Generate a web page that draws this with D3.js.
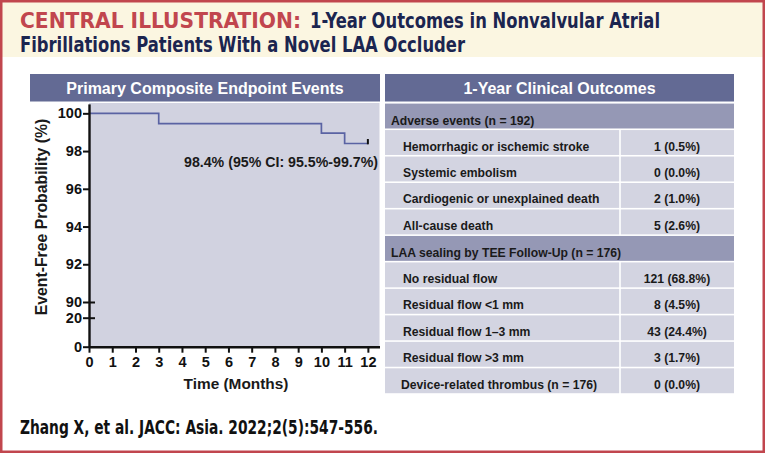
<!DOCTYPE html>
<html>
<head>
<meta charset="utf-8">
<script src="https://cdn.jsdelivr.net/npm/d3@7"></script>
<style>
  body { margin: 0; background: #fff; }
  svg { display: block; }
  .cond { font-family: "Liberation Sans Narrow", "DejaVu Sans Condensed", sans-serif; font-stretch: condensed; font-weight: bold; }
  .sans { font-family: "Liberation Sans", Arial, sans-serif; font-weight: bold; }
</style>
</head>
<body>
<div id="chart"></div>
<script>
// Kaplan-Meier step values (event-free probability, %)
var kmTimes = [0, 3, 10, 11, 12];
var kmSurv = [100, 99.45, 98.95, 98.4, 98.4];
var yTicks = [0, 20, 90, 92, 94, 96, 98, 100];
var breakTicks = [20, 90];
var xTicks = [0, 1, 2, 3, 4, 5, 6, 7, 8, 9, 10, 11, 12];
var kmNote = "98.4% (95% CI: 95.5%-99.7%)";

// table contents
var adverseTitle = "Adverse events (n = 192)";
var adverseLabels = ["Hemorrhagic or ischemic stroke", "Systemic embolism", "Cardiogenic or unexplained death", "All-cause death"];
var adverseValues = ["1 (0.5%)", "0 (0.0%)", "2 (1.0%)", "5 (2.6%)"];
var sealingTitle = "LAA sealing by TEE Follow-Up (n = 176)";
var sealingLabels = ["No residual flow", "Residual flow <1 mm", "Residual flow 1\u20133 mm", "Residual flow >3 mm"];
var sealingValues = ["121 (68.8%)", "8 (4.5%)", "43 (24.4%)", "3 (1.7%)"];
var thrombusLabel = "Device-related thrombus (n = 176)";
var thrombusValue = "0 (0.0%)";

var W = 765, H = 453;
var red = "#c1464e", navy = "#1b2550", hdr = "#636a94", sect = "#9598b5", cell = "#d3d4e1", plotBg = "#d1d2e0", lineC = "#5a63a3";

var svg = d3.select("#chart").append("svg").attr("width", W).attr("height", H);

// frame + banner
svg.append("rect").attr("x", 0).attr("y", 0).attr("width", W).attr("height", H).attr("fill", "#fff");
svg.append("rect").attr("x", 2).attr("y", 2).attr("width", W - 4).attr("height", 55).attr("fill", "#fbf6e1");
svg.append("rect").attr("x", 1.25).attr("y", 1.25).attr("width", W - 2.5).attr("height", H - 2.5)
  .attr("fill", "none").attr("stroke", red).attr("stroke-width", 2.5);

// title, squeezed to the widths of the original condensed face
svg.append("text").attr("class", "cond").attr("x", 20).attr("y", 28).style("font-size", "21px")
  .attr("fill", red).attr("textLength", 281).attr("lengthAdjust", "spacingAndGlyphs")
  .text("CENTRAL ILLUSTRATION:");
svg.append("text").attr("class", "cond").attr("x", 310).attr("y", 28).style("font-size", "21px")
  .attr("fill", navy).attr("textLength", 350).attr("lengthAdjust", "spacingAndGlyphs")
  .text("1-Year Outcomes in Nonvalvular Atrial");
svg.append("text").attr("class", "cond").attr("x", 20).attr("y", 52).style("font-size", "21px")
  .attr("fill", navy).attr("textLength", 445).attr("lengthAdjust", "spacingAndGlyphs")
  .text("Fibrillations Patients With a Novel LAA Occluder");

svg.append("text").attr("class", "cond").attr("x", 20).attr("y", 434).style("font-size", "19px")
  .attr("fill", "#111").attr("textLength", 358).attr("lengthAdjust", "spacingAndGlyphs")
  .text("Zhang X, et al. JACC: Asia. 2022;2(5):547-556.");

// ---- left panel: KM curve
svg.append("rect").attr("x", 30).attr("y", 74).attr("width", 350).attr("height", 27.5).attr("fill", hdr);
svg.append("text").attr("class", "sans").attr("x", 205).attr("y", 93.5).attr("text-anchor", "middle")
  .style("font-size", "16px").attr("fill", "#fff").text("Primary Composite Endpoint Events");

var x = d3.scaleLinear().domain([0, 12.5]).range([89, 379.5]);
var y = d3.scaleLinear().domain([0, 20, 90, 100.5]).range([346.7, 317.7, 302, 103.9]);

svg.append("rect").attr("x", x(0)).attr("y", 103).attr("width", x(12.5) - x(0)).attr("height", y(0) - 103)
  .attr("fill", plotBg);

var km = kmTimes.map(function (t, i) { return { t: t, s: kmSurv[i] }; });
var line = d3.line().curve(d3.curveStepAfter)
  .x(function (d) { return x(d.t); })
  .y(function (d) { return y(d.s); });
svg.append("path").datum(km).attr("d", line).attr("fill", "none").attr("stroke", lineC).attr("stroke-width", 1.7);

// censor mark at last point
var last = km[km.length - 1];
svg.append("line").attr("x1", x(last.t)).attr("x2", x(last.t))
  .attr("y1", y(last.s) + 0.8).attr("y2", y(last.s) - 4.5)
  .attr("stroke", "#111").attr("stroke-width", 2);

svg.append("text").attr("class", "sans").attr("x", 378).attr("y", 167).attr("text-anchor", "end")
  .style("font-size", "14.2px").attr("fill", "#1a1a1a").text(kmNote);

var yAxis = svg.append("g").attr("transform", "translate(" + x(0) + ",0)")
  .call(d3.axisLeft(y).tickValues(yTicks).tickSize(6).tickPadding(1).tickSizeOuter(0));
yAxis.selectAll(".tick line").attr("x1", function (d) { return breakTicks.indexOf(d) >= 0 ? 6 : 0; });

var xAxis = svg.append("g").attr("transform", "translate(0," + y(0) + ")")
  .call(d3.axisBottom(x).tickValues(xTicks).tickSize(6).tickPadding(4).tickSizeOuter(0));

[yAxis, xAxis].forEach(function (g) {
  g.select(".domain").attr("stroke", "#111").attr("stroke-width", 2.4);
  g.selectAll(".tick line").attr("stroke", "#111").attr("stroke-width", 2);
  g.selectAll(".tick text").attr("class", "sans").style("font-size", "14.5px").attr("fill", "#111");
});

svg.append("text").attr("class", "sans")
  .attr("transform", "translate(47,217) rotate(-90)").attr("text-anchor", "middle")
  .style("font-size", "15.8px").attr("fill", "#1a1a1a").text("Event-Free Probability (%)");
svg.append("text").attr("class", "sans").attr("x", 236).attr("y", 389).attr("text-anchor", "middle")
  .style("font-size", "15.4px").attr("fill", "#1a1a1a").text("Time (Months)");

// ---- right panel: table
var tx0 = 385, tx1 = 734, tcol = 620;
svg.append("rect").attr("x", tx0).attr("y", 74).attr("width", tx1 - tx0).attr("height", 27.5).attr("fill", hdr);
svg.append("text").attr("class", "sans").attr("x", (tx0 + tx1) / 2).attr("y", 93.5).attr("text-anchor", "middle")
  .style("font-size", "16px").attr("fill", "#fff").text("1-Year Clinical Outcomes");

var rows = [];
rows.push({ type: "sect", label: adverseTitle });
adverseLabels.forEach(function (l, i) { rows.push({ type: "row", label: l, value: adverseValues[i], indent: 18 }); });
rows.push({ type: "sect", label: sealingTitle });
sealingLabels.forEach(function (l, i) { rows.push({ type: "row", label: l, value: sealingValues[i], indent: 18 }); });
rows.push({ type: "row", label: thrombusLabel, value: thrombusValue, indent: 16 });

var rowY = d3.scaleBand().domain(d3.range(rows.length)).range([102.8, 394]).paddingInner(0.06).paddingOuter(0.03);

var rg = svg.append("g").selectAll("g").data(rows).enter().append("g")
  .attr("transform", function (d, i) { return "translate(0," + rowY(i) + ")"; });

rg.filter(function (d) { return d.type === "sect"; }).append("rect")
  .attr("x", tx0).attr("width", tx1 - tx0).attr("height", rowY.bandwidth()).attr("fill", sect);
rg.filter(function (d) { return d.type === "row"; }).each(function () {
  var g = d3.select(this);
  g.append("rect").attr("x", tx0).attr("width", tcol - tx0 - 0.8).attr("height", rowY.bandwidth()).attr("fill", cell);
  g.append("rect").attr("x", tcol + 0.8).attr("width", tx1 - tcol - 0.8).attr("height", rowY.bandwidth()).attr("fill", cell);
});

rg.append("text").attr("class", "sans")
  .attr("x", function (d) { return d.type === "sect" ? tx0 + 6 : tx0 + d.indent; })
  .attr("y", function (d) { return d.type === "sect" ? rowY.bandwidth() - 3.5 : rowY.bandwidth() / 2 + 8; })
  .style("font-size", "12.2px").attr("fill", "#1a1a1a").text(function (d) { return d.label; });
rg.filter(function (d) { return d.type === "row"; }).append("text").attr("class", "sans")
  .attr("x", (tcol + tx1) / 2).attr("y", rowY.bandwidth() / 2 + 8).attr("text-anchor", "middle")
  .style("font-size", "12.2px").attr("fill", "#1a1a1a").text(function (d) { return d.value; });
</script>
</body>
</html>
